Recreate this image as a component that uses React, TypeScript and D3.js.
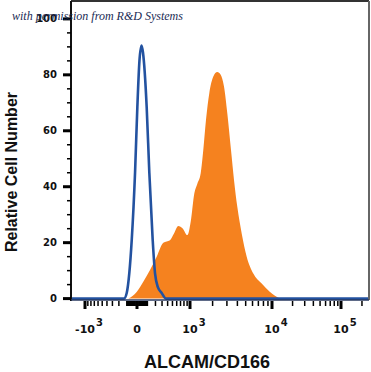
import React from 'react'
import * as d3 from 'd3'

// isotype control (blue line): intensity, relative cell number
const isoX = [-133, -101, -73, -48, -17, 3, 21, 40, 54, 92, 122, 163, 194, 236, 294, 369]
const isoY = [0, 2, 9, 21, 45, 68.6, 85, 90.5, 88, 68.6, 45, 21, 9, 4, 2, 0]

// ALCAM/CD166 stained (orange fill)
const cdX = [-83, -3, 57, 130, 217, 321, 448, 535, 641, 762, 907, 1023, 1149, 1263, 1403, 1518,
  1647, 1816, 2041, 2290, 2521, 2766, 3033, 3359, 3647, 3990, 4493, 5139, 6125, 7643, 9495, 13111]
const cdY = [0, 2.4, 6, 10.2, 15, 20, 20.9, 23.3, 26, 25.1, 22.7, 27.5, 37.6, 41, 44.8, 53.1,
  63.9, 73.4, 79.4, 81, 80, 75.8, 66.3, 53.1, 42.4, 32.8, 23.3, 15, 9, 5.4, 2.4, 0]

const yTicks = [0, 20, 40, 60, 80, 100]
const xMajor = [-1000, 0, 1000, 10000, 100000]
const xMajorLabels = [['-10', '3'], ['0', ''], ['10', '3'], ['10', '4'], ['10', '5']]

const W = 371
const H = 372
const left = 71
const right = 369
const top = 1
const bottom = 300

const C = 300
const tf = (v: number) => Math.sign(v) * Math.log10(1 + Math.abs(v) / C)

// logicle-like display: piecewise over transformed values
const xT = d3.scaleLinear()
  .domain(xMajor.map(tf))
  .range([85, 137, 190, 272, 341].map(p => left + (p - left) / (right - left) * (right - left)))
const x = (v: number) => xT(tf(v))

const y = d3.scaleLinear().domain([-0.5, 106.4]).range([bottom, top])

function minorTicks () {
  const out: number[] = []
  for (let k = 1; k <= 9; k++) {
    out.push(-k * 100, -k * 10, k * 10, k * 100, k * 1000, k * 10000, k * 100000)
  }
  return out.filter(v => !xMajor.includes(v) && x(v) > left && x(v) < right)
}

const App = () => {
  const iso = isoX.map((v, i) => [v, isoY[i]] as [number, number])
  const cd = cdX.map((v, i) => [v, cdY[i]] as [number, number])

  const area = d3.area<[number, number]>()
    .x(d => x(d[0]))
    .y0(y(0))
    .y1(d => y(d[1]))
    .curve(d3.curveMonotoneX)

  const line = d3.line<[number, number]>()
    .x(d => x(d[0]))
    .y(d => y(d[1]))
    .curve(d3.curveMonotoneX)

  const xMin = xT.invert(left)
  const xMax = xT.invert(right)
  const inv = (t: number) => Math.sign(t) * C * (Math.pow(10, Math.abs(t)) - 1)
  const isoFull: [number, number][] = [[inv(xMin), 0], ...iso, [inv(xMax), 0]]

  const yMinor = d3.range(5, 105, 5).filter(v => v % 20 !== 0)
  const tickFont = "'DejaVu Sans', sans-serif"

  return (
    <div style={{ position: 'absolute', left: 0, top: 0 }}>
      <svg width={W} height={H} style={{ display: 'block', background: '#fff' }}>
        <path d={area(cd) || ''} fill='#f5821f' />
        <path d={line(isoFull) || ''} fill='none' stroke='#2352a0' strokeWidth={2.6} strokeLinejoin='round' />

        {/* frame */}
        <line x1={left} x2={right} y1={top} y2={top} stroke='#333' strokeWidth={2} />
        <line x1={right} x2={right} y1={top} y2={bottom} stroke='#666' strokeWidth={2} />
        <line x1={left} x2={left} y1={top} y2={bottom + 1} stroke='#111' strokeWidth={2} />
        <line x1={left} x2={right} y1={bottom} y2={bottom} stroke='#2a3a60' strokeWidth={1.5} />

        {/* y axis */}
        {yTicks.map(t => (
          <g key={'y' + t}>
            <line x1={left - 8} x2={left} y1={y(t)} y2={y(t)} stroke='#000' strokeWidth={3} />
            <text x={57} y={y(t)} dy='0.35em' textAnchor='end' fontFamily={tickFont}
              fontWeight='bold' fontSize={10} fill='#111'>{t}</text>
          </g>
        ))}
        {yMinor.map(t => (
          <line key={'ym' + t} x1={left - 4} x2={left} y1={y(t)} y2={y(t)} stroke='#000' strokeWidth={1.5} />
        ))}

        {/* x axis */}
        {minorTicks().map(v => (
          <line key={'xm' + v} x1={x(v)} x2={x(v)} y1={bottom + 1} y2={bottom + 6} stroke='#000' strokeWidth={1.5} />
        ))}
        {xMajor.map((v, i) => {
          const [base, sup] = xMajorLabels[i]
          const half = base.length * 3.9 - (base.startsWith('-') ? 1.7 : 0)
          const cx = x(v) + (base.startsWith('-') ? 0 : 0)
          return (
            <g key={'xM' + v}>
              <line x1={x(v)} x2={x(v)} y1={bottom + 1} y2={bottom + 9} stroke='#000' strokeWidth={3} />
              <text x={cx} y={333} textAnchor='middle' fontFamily={tickFont} fontWeight='bold'
                fontSize={11} fill='#111'>{base}</text>
              {sup && (
                <text x={cx + half + 1} y={326} textAnchor='start' fontFamily={tickFont} fontWeight='bold'
                  fontSize={10} fill='#111'>{sup}</text>
              )}
            </g>
          )
        })}

        {/* axis titles */}
        <text x={207} y={368} textAnchor='middle' fontFamily="'Liberation Sans', Arial, sans-serif"
          fontWeight='bold' fontSize={18} fill='#111'>ALCAM/CD166</text>
        <text transform='translate(17,172) rotate(-90)' textAnchor='middle'
          fontFamily="'Liberation Sans', Arial, sans-serif" fontWeight='bold' fontSize={16}
          fill='#111'>Relative Cell Number</text>

        {/* watermark */}
        <text x={12} y={20} fontFamily="'Liberation Serif', 'DejaVu Serif', serif" fontStyle='italic'
          fontSize={12} fill='#1b2b55'>with permission from R&amp;D Systems</text>
      </svg>
    </div>
  )
}

export default App
